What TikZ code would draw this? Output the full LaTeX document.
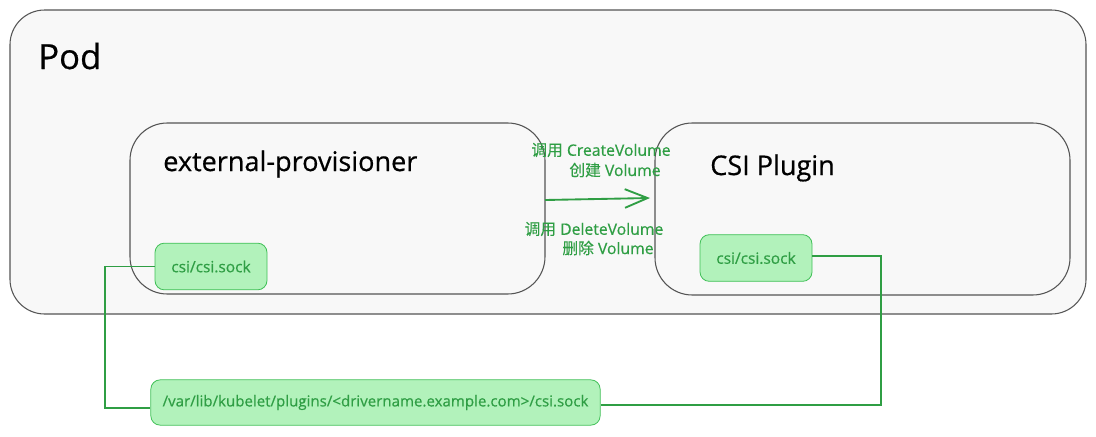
\documentclass[tikz,border=0pt]{standalone}
\usepackage{fontspec}
\setmainfont{Open Sans}[FakeBold=0.5]
\newfontfamily\cjk{Noto Sans CJK SC}[FakeBold=0.3]
\usetikzlibrary{arrows.meta}
\definecolor{podfill}{HTML}{F8F8F8}
\definecolor{edge}{HTML}{555555}
\definecolor{gfill}{HTML}{B2F2BB}
\definecolor{gline}{HTML}{2F9E44}
\definecolor{gstroke}{HTML}{40C057}
\tikzset{
  container/.style={draw=edge, line width=0.8pt, rounded corners=26pt},
  sock/.style={draw=gstroke, fill=gfill, line width=0.6pt, rounded corners=7pt, text=gline, font=\fontsize{11.6}{13}\selectfont, inner sep=0pt},
  conn/.style={draw=gline, line width=1.4pt},
  lbl/.style={text=gline, font=\fontsize{11.8}{13}\selectfont, inner sep=0pt},
  title/.style={text=black, anchor=west, inner sep=0pt}
}
\begin{document}
\begin{tikzpicture}[x=0.75pt,y=-0.75pt]
\useasboundingbox (0,0) rectangle (1096,436);
\fill[white] (0,0) rectangle (1096,436);
% Pod
\path[container, fill=podfill] (10,10) rectangle (1086,314);
\node[title, font=\fontsize{26}{28}\selectfont] (pod) at (38,56) {Pod};
% containers
\path[container, rounded corners=28pt] (130,123) rectangle (545,294);
\node[title, font=\fontsize{20.3}{22}\selectfont] (ep) at (163,164) {external-provisioner};
\path[container, rounded corners=28pt] (655,123) rectangle (1070,295);
\node[title, font=\fontsize{20.3}{22}\selectfont] (csip) at (710,168) {CSI Plugin};
% sockets
\node[sock, minimum width=84pt, minimum height=35pt] (s1) at (211,266.5) {csi/csi.sock};
\node[sock, minimum width=84pt, minimum height=35pt] (s2) at (756,258) {csi/csi.sock};
\node[sock, minimum width=337pt, minimum height=34pt, font=\fontsize{11.3}{13}\selectfont] (s3) at (375.5,402.5) {/var/lib/kubelet/plugins/<drivername.example.com>/csi.sock};
% arrow
\coordinate (a1) at (545,200);
\coordinate (a2) at (650,198);
\draw[conn, -{Straight Barb[length=17pt,width=14pt,line width=1.4pt]}] (a1) -- (a2);
\node[lbl] (l1) at (601,150) {{\cjk 调用} CreateVolume};
\node[lbl] (l2) at (615,170) {{\cjk 创建} Volume};
\node[lbl] (l3) at (594,229) {{\cjk 调用} DeleteVolume};
\node[lbl] (l4) at (608,248) {{\cjk 删除} Volume};
% connectors
\coordinate (c1) at (105,266.5);
\coordinate (c2) at (105,408);
\draw[conn] (s1.west) -- (c1) -- (c2) -- (s3.west |- c2);
\coordinate (d1) at (881,256);
\coordinate (d2) at (881,405);
\draw[conn] (s2.east |- d1) -- (d1) -- (d2) -- (s3.east |- d2);
\end{tikzpicture}
\end{document}
